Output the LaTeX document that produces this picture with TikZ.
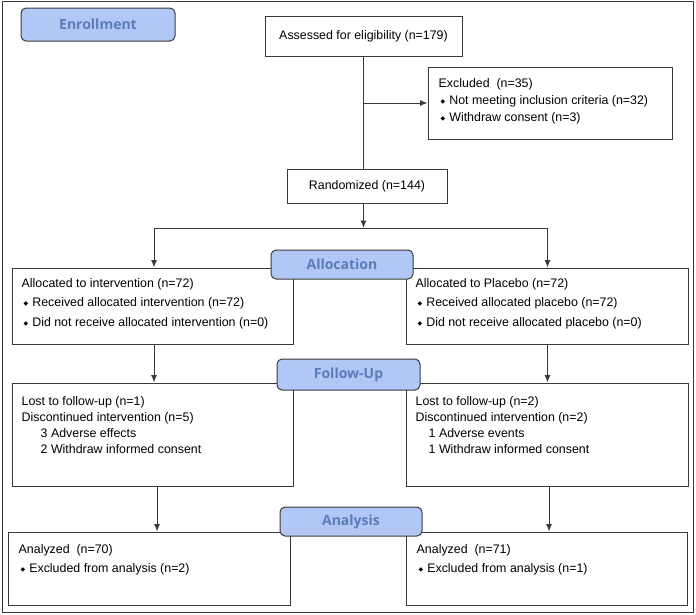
\documentclass[tikz,border=0pt]{standalone}
\usepackage{fontspec}
\setmainfont{Liberation Sans}
\newfontfamily\stagefont{Open Sans}
\newfontfamily\symfont{DejaVu Sans}
\usetikzlibrary{arrows.meta}

\definecolor{linegray}{HTML}{3A3A3A}
\definecolor{stagefill}{HTML}{B1C7F6}
\definecolor{stagetext}{HTML}{5B7CB8}

% small diamond bullet
\newcommand{\dia}{\hspace*{2pt}{\symfont\fontsize{6}{6}\selectfont\raisebox{0.3ex}{◆}}\hspace{4pt}}

\begin{document}
\begin{tikzpicture}[x=1pt,y=-1pt,
  box/.style={draw=linegray,line width=1pt,inner sep=0pt,font=\fontsize{12.4}{15}\selectfont},
  txt/.style={anchor=north west,align=left,inner sep=0pt},
  stage/.style={draw=linegray,line width=1pt,rounded corners=5pt,fill=stagefill,
    text=stagetext,font=\stagefont\bfseries\fontsize{14}{16}\selectfont,inner sep=0pt},
  arr/.style={-{Latex[length=7.5pt,width=6pt]},line width=1pt,draw=linegray},
  conn/.style={line width=1pt,draw=linegray}]
\useasboundingbox (0,0) rectangle (696,614);
\draw[linegray,line width=1pt] (2,1.5) rectangle (693.5,612);

% enrollment
\node[box,minimum width=197,minimum height=40] (assess) at (363.5,36) {Assessed for eligibility (n=179)};
\node[box,minimum width=244,minimum height=72] (excl) at (550,103) {};
\node[txt,font=\fontsize{12.4}{17}\selectfont] (excltxt) at ([shift={(11,12)}]excl.north west)
  {Excluded~ (n=35)\\\dia Not meeting inclusion criteria (n=32)\\\dia Withdraw consent (n=3)};
\node[box,minimum width=160,minimum height=34] (random) at (367,186) {Randomized (n=144)};

% allocation
\node[box,minimum width=281,minimum height=76] (alloc1) at (152.5,306) {};
\node[txt,font=\fontsize{12.4}{19.5}\selectfont] (alloc1txt) at ([shift={(10,10.5)}]alloc1.north west)
  {Allocated to intervention (n=72)\\\dia Received allocated intervention (n=72)\\\dia Did not receive allocated intervention (n=0)};
\node[box,minimum width=282,minimum height=76] (alloc2) at (547,306) {};
\node[txt,font=\fontsize{12.4}{19.5}\selectfont] (alloc2txt) at ([shift={(10,10.5)}]alloc2.north west)
  {Allocated to Placebo (n=72)\\\dia Received allocated placebo (n=72)\\\dia Did not receive allocated placebo (n=0)};

% follow-up
\node[box,minimum width=281,minimum height=103] (fu1) at (152.5,434.5) {};
\node[txt,font=\fontsize{12.4}{16}\selectfont] (fu1txt) at ([shift={(10,13.5)}]fu1.north west)
  {Lost to follow-up (n=1)\\Discontinued intervention (n=5)\\\hspace*{19pt}3 Adverse effects\\\hspace*{19pt}2 Withdraw informed consent};
\node[box,minimum width=282,minimum height=103] (fu2) at (547,434.5) {};
\node[txt,font=\fontsize{12.4}{16}\selectfont] (fu2txt) at ([shift={(10,13.5)}]fu2.north west)
  {Lost to follow-up (n=2)\\Discontinued intervention (n=2)\\\hspace*{13pt}1 Adverse events\\\hspace*{13pt}1 Withdraw informed consent};

% analysis
\node[box,minimum width=282,minimum height=73] (an1) at (149,568.5) {};
\node[txt,font=\fontsize{12.4}{19}\selectfont] (an1txt) at ([shift={(11,12.5)}]an1.north west)
  {Analyzed~ (n=70)\\\dia Excluded from analysis (n=2)};
\node[box,minimum width=281,minimum height=73] (an2) at (546.5,568.5) {};
\node[txt,font=\fontsize{12.4}{19}\selectfont] (an2txt) at ([shift={(11,12.5)}]an2.north west)
  {Analyzed~ (n=71)\\\dia Excluded from analysis (n=1)};

% connectors
\coordinate (lcol) at (154,0);
\coordinate (rcol) at (547.5,0);
\coordinate (fork) at (363.5,228);
\draw[conn] (assess.south) -- (assess.south |- random.north);
\draw[arr] (assess.south |- excl.west) -- (excl.west);
\draw[arr] (fork |- random.south) -- (fork);
\draw[conn] (fork -| lcol) -- (fork -| rcol);
\draw[arr] (fork -| lcol) -- (lcol |- alloc1.north);
\draw[arr] (fork -| rcol) -- (rcol |- alloc2.north);
\draw[arr] (lcol |- alloc1.south) -- (lcol |- fu1.north);
\draw[arr] (rcol |- alloc2.south) -- (rcol |- fu2.north);
\draw[arr] ([xshift=3pt]lcol |- fu1.south) -- ([xshift=3pt]lcol |- an1.north);
\draw[arr] ([xshift=1.5pt]rcol |- fu2.south) -- ([xshift=1.5pt]rcol |- an2.north);

% stage labels
\node[stage,minimum width=154,minimum height=33] (enroll) at (98,24.5) {Enrollment};
\node[stage,minimum width=142,minimum height=29] (allocl) at (342,264.5) {Allocation};
\node[stage,minimum width=143,minimum height=31] (followl) at (348.5,374.5) {Follow-Up};
\node[stage,minimum width=142,minimum height=29] (analysisl) at (351,521.5) {Analysis};
\end{tikzpicture}
\end{document}
